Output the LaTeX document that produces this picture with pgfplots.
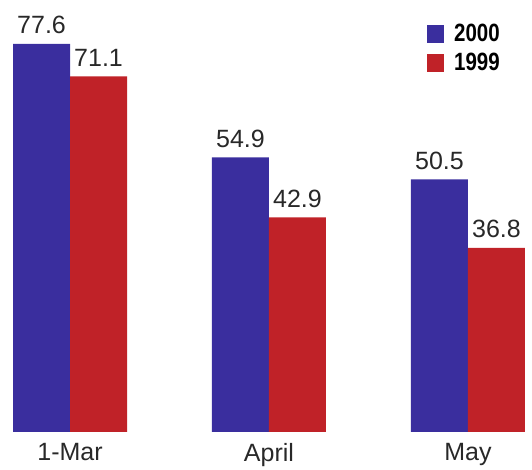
\documentclass[border=0pt]{standalone}
\usepackage{pgfplots}
\pgfplotsset{compat=1.18}
\usepackage{fontspec}
\setmainfont{Liberation Sans}
\usepackage{graphicx}
\definecolor{bluebar}{RGB}{58,46,158}
\definecolor{redbar}{RGB}{192,34,40}
\definecolor{txt}{RGB}{40,40,40}

\begin{document}
\begin{tikzpicture}
\begin{axis}[
  scale only axis,
  width=532pt, height=432pt,
  xmin=-0.352, xmax=2.322,
  ymin=0, ymax=86.4,
  ybar=0pt, bar width=57pt,
  axis line style={draw=none},
  major tick length=0pt,
  ytick=\empty,
  xtick={0,1,2},
  xticklabels={1-Mar,April,May},
  xticklabel style={font=\fontsize{25}{25}\selectfont, text=txt, anchor=north, inner sep=0pt, yshift=-11pt},
  /pgf/number format/assume math mode=true,
  nodes near coords={\pgfmathprintnumber[fixed,fixed zerofill,precision=1]{\pgfplotspointmeta}},
  nodes near coords style={font=\fontsize{25}{25}\selectfont, text=txt, anchor=south, inner sep=0pt, yshift=10pt},
  legend style={at={(axis description cs:0.803,0.944)}, anchor=north west,
    draw=none, fill=none, inner sep=0pt, outer sep=0pt, row sep=10pt, column sep=10pt,
    font=\bfseries\fontsize{25}{25}\selectfont,
    nodes={inner sep=0pt, text=black}},
  legend image code/.code={\path[#1, draw=none] (0pt,-9pt) rectangle (17pt,9pt);},
]
\addplot[fill=bluebar, draw=none] coordinates {(0,77.6) (1,54.9) (2,50.5)};
\addlegendentry{\scalebox{0.82}[1]{2000}}
\addplot[fill=redbar, draw=none] coordinates {(0,71.1) (1,42.9) (2,36.8)};
\addlegendentry{\scalebox{0.82}[1]{1999}}
\coordinate (bl) at (rel axis cs:0,0);
\coordinate (tr) at (rel axis cs:1,1);
\end{axis}
\pgfresetboundingbox
\path[use as bounding box] ([yshift=-38pt]bl) rectangle (tr);
\end{tikzpicture}
\end{document}
